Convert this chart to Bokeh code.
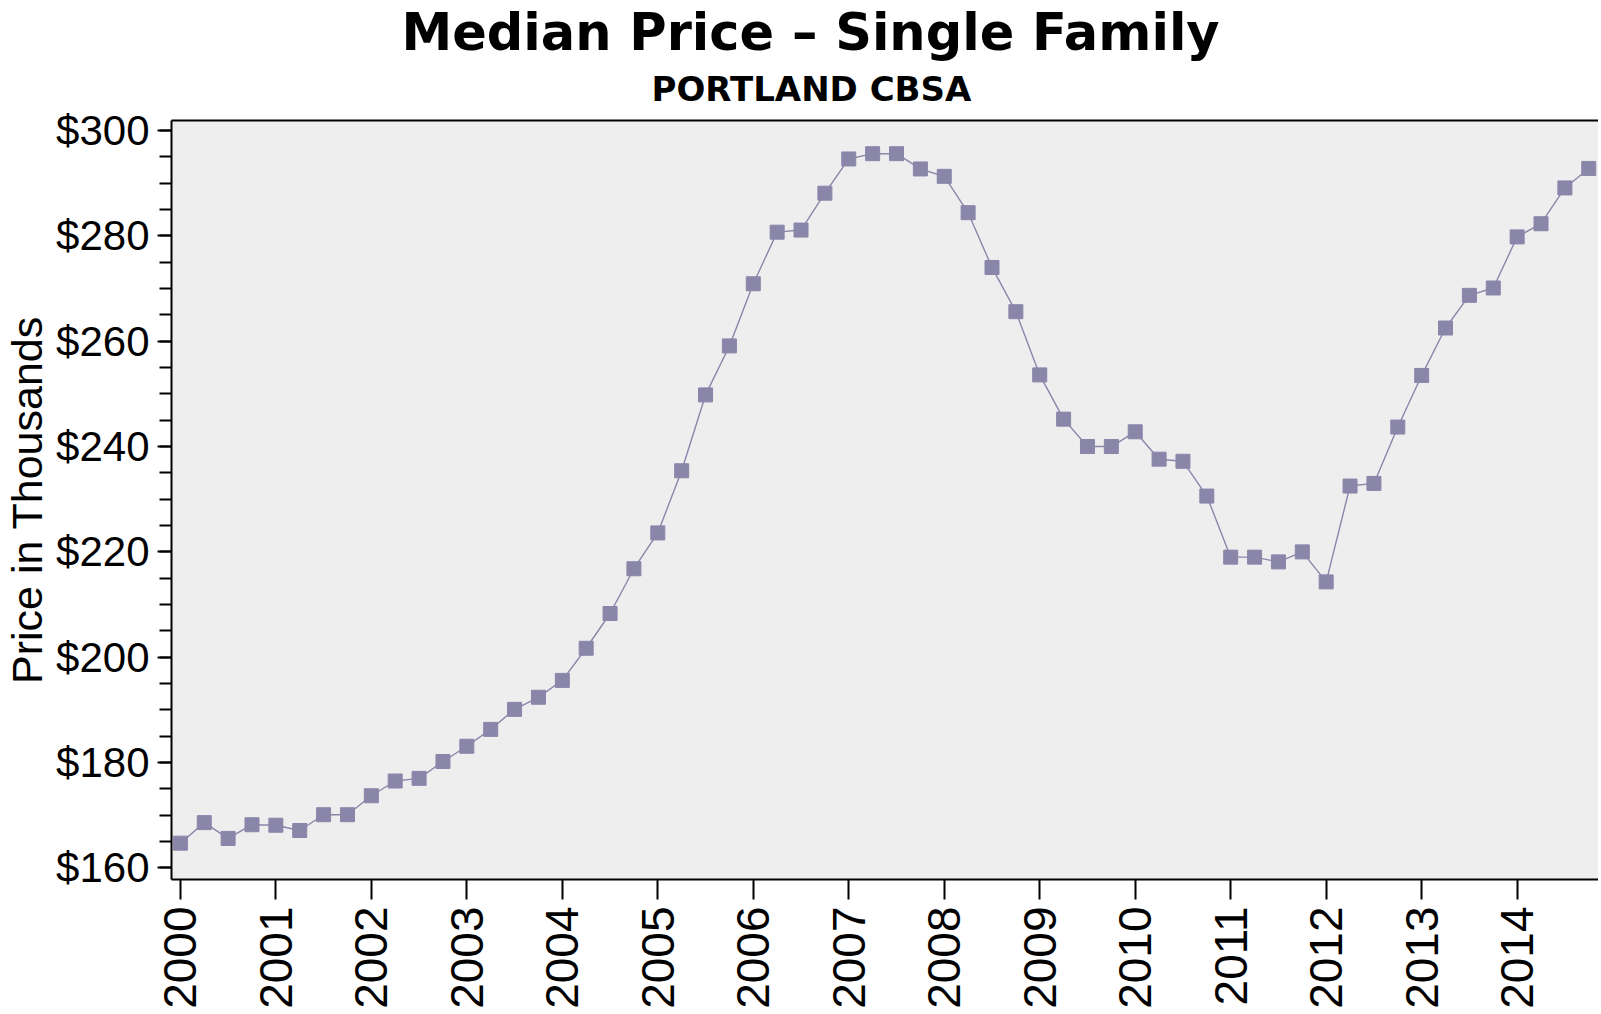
import math
from bokeh.plotting import figure
from bokeh.models import (Range1d, SingleIntervalTicker, NumeralTickFormatter, Title,
                          LinearAxis, FixedTicker, BasicTickFormatter)
from bokeh.embed import file_html
from bokeh.resources import INLINE

# Quarterly data, 2000 Q1 .. 2014 Q4 (x = year + quarter offset)
years = [2000 + i * 0.25 for i in range(60)]
prices = [
    164.7, 168.6, 165.6, 168.2, 168.1, 167.1, 170.1, 170.1,   # 2000-2001
    173.7, 176.5, 177.0, 180.2, 183.1, 186.3, 190.1, 192.4,   # 2002-2003
    195.6, 201.7, 208.3, 216.8, 223.6, 235.4, 249.8, 259.1,   # 2004-2005
    270.9, 280.7, 281.1, 288.1, 294.6, 295.6, 295.6, 292.7,   # 2006-2007
    291.3, 284.4, 274.0, 265.6, 253.6, 245.2, 240.0, 240.0,   # 2008-2009
    242.8, 237.6, 237.2, 230.6, 219.0, 219.0, 218.1, 220.0,   # 2010-2011
    214.3, 232.5, 233.0, 243.7, 253.5, 262.5, 268.7, 270.1,   # 2012-2013
    279.8, 282.3, 289.1, 292.8,                               # 2014
]
title_text = "Median Price \u2013 Single Family"
subtitle_text = "PORTLAND CBSA"
y_label = "Price in Thousands"

COLOR = "#8a86aa"
TICK_FONT = "Liberation Sans"

p = figure(frame_width=1427, frame_height=759, output_backend="svg", toolbar_location=None,
           title=None,
           x_range=Range1d(1999.907, 2014.852), y_range=Range1d(157.8, 301.9),
           min_border_left=0, min_border_right=0, min_border_top=120,
           min_border_bottom=0)

p.background_fill_color = "#eeeeee"
p.border_fill_color = "white"
p.outline_line_color = None
p.grid.visible = False

# y axis
ya = p.yaxis[0]
ya.ticker = SingleIntervalTicker(interval=20, num_minor_ticks=4)
ya.formatter = NumeralTickFormatter(format="$0")
ya.axis_label = y_label
ya.axis_label_text_font = TICK_FONT
ya.axis_label_text_font_style = "normal"
ya.axis_label_text_font_size = "43px"
ya.axis_label_text_color = "black"
ya.axis_label_standoff = 2
ya.major_label_text_font = TICK_FONT
ya.major_label_text_font_size = "42px"
ya.major_label_text_color = "black"
ya.major_label_standoff = 8
ya.major_tick_out = 14
ya.major_tick_in = 0
ya.minor_tick_out = 12
ya.minor_tick_in = 0
ya.axis_line_width = 2
ya.major_tick_line_width = 2
ya.minor_tick_line_width = 2

# x axis (bottom)
xa = p.xaxis[0]
xa.ticker = SingleIntervalTicker(interval=1, num_minor_ticks=0)
xa.formatter = BasicTickFormatter(use_scientific=False)
xa.major_label_orientation = math.pi / 2
xa.major_label_text_font = TICK_FONT
xa.major_label_text_font_size = "46px"
xa.major_label_text_color = "black"
xa.major_label_standoff = 7
xa.major_tick_out = 20
xa.major_tick_in = 0
xa.minor_tick_line_color = None
xa.axis_line_width = 2
xa.major_tick_line_width = 2

# top border as a bare axis
top_ax = LinearAxis(ticker=FixedTicker(ticks=[]), major_label_text_font_size="0px",
                    major_tick_out=0, minor_tick_out=0, major_tick_in=0, minor_tick_in=0,
                    major_label_standoff=0,
                    axis_line_color="black", axis_line_width=2)
p.add_layout(top_ax, "above")

# small spacer between the frame and the subtitle
spacer = Title(text=" ", text_font_size="4px", standoff=0, text_color="white")
p.add_layout(spacer, "above")

sub = Title(text=subtitle_text, align="left", offset=480,
            text_font="DejaVu Sans", text_font_style="bold", text_font_size="34px",
            text_color="black", standoff=10)
p.add_layout(sub, "above")
main = Title(text=title_text, align="left", offset=230,
             text_font="DejaVu Sans", text_font_style="bold", text_font_size="51px",
             text_color="black", standoff=0)
p.add_layout(main, "above")

p.line(years, prices, line_color=COLOR, line_width=1.4)
p.scatter(years, prices, marker="square", size=14, fill_color=COLOR, line_color=COLOR)

open("out.html", "w").write(file_html(p, INLINE))
